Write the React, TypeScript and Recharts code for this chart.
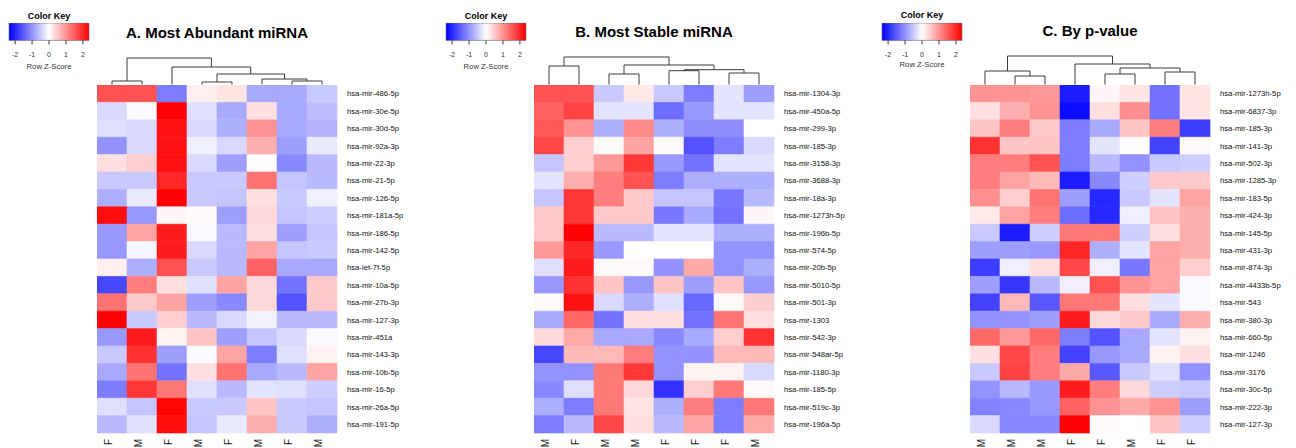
import React from 'react';
import { ComposedChart, XAxis, YAxis, ReferenceArea, Line, Scatter } from 'recharts';

const FONT = '"Liberation Sans", Arial, Helvetica, sans-serif';

// ---------- Panel A ----------
const titleA = 'A. Most Abundant miRNA';
const rowsA = [
  'hsa-mir-486-5p', 'hsa-mir-30e-5p', 'hsa-mir-30d-5p', 'hsa-mir-92a-3p', 'hsa-mir-22-3p',
  'hsa-mir-21-5p', 'hsa-mir-126-5p', 'hsa-mir-181a-5p', 'hsa-mir-186-5p', 'hsa-mir-142-5p',
  'hsa-let-7f-5p', 'hsa-mir-10a-5p', 'hsa-mir-27b-3p', 'hsa-mir-127-3p', 'hsa-mir-451a',
  'hsa-mir-143-3p', 'hsa-mir-10b-5p', 'hsa-mir-16-5p', 'hsa-mir-26a-5p', 'hsa-mir-191-5p',
];
const colsA = ['F', 'M', 'F', 'M', 'F', 'M', 'F', 'M'];
const zA = [
  [1.6, 1.6, -1.2, 0.15, 0.25, -0.8, -0.8, -0.5],
  [-0.35, -0.05, 2.36, -0.3, -0.8, 0.3, -0.8, -0.6],
  [-0.3, -0.35, 2.2, -0.35, -0.75, 1.0, -0.8, -0.7],
  [-1.0, -0.35, 2.2, -0.15, -0.35, 0.75, -0.9, -0.2],
  [0.3, 0.45, 2.2, -0.35, -0.9, 0.02, -1.1, -0.65],
  [-0.5, -0.5, 2.0, -0.5, -0.5, 1.3, -0.55, -0.65],
  [-0.75, -0.2, 2.36, -0.5, -0.55, 0.3, -0.5, -0.15],
  [2.25, -0.95, 0.07, 0.05, -0.9, 0.35, -0.55, -0.45],
  [-0.95, 0.85, 2.1, -0.05, -0.65, 0.3, -0.9, -0.55],
  [-0.95, -0.08, 2.1, -0.35, -0.65, 0.85, -0.55, -0.5],
  [0.15, -0.75, 1.6, -0.5, -0.65, 1.45, -0.8, -0.8],
  [-1.7, 1.2, 0.3, -0.3, 0.85, 0.35, -1.3, 0.5],
  [1.3, 0.5, 0.85, -0.9, -1.1, 0.35, -1.6, 0.5],
  [2.36, -0.5, 0.45, -0.65, -0.35, -0.12, -0.65, -0.65],
  [-0.95, 2.1, 0.12, 0.55, -0.9, -0.55, -0.35, -0.05],
  [-0.5, 1.9, -0.9, -0.05, 0.85, -1.2, -0.3, 0.12],
  [-0.8, 1.3, -1.3, 0.3, 1.3, -0.8, -0.65, 0.85],
  [-1.2, 1.85, 1.25, -0.3, -0.65, -0.25, -0.3, -0.45],
  [-0.3, -0.55, 2.3, -0.5, -0.5, 0.55, -0.5, -0.55],
  [-0.65, -0.3, 2.25, -0.55, -0.2, 0.75, -0.5, -0.75],
];
// hclust-style merges: negative = leaf column (1-based), positive = earlier merge; third = height
const mergeA: [number, number, number][] = [
  [-1, -2, 4], [-4, -5, 3], [-7, -8, 4], [-6, 3, 6], [2, 4, 11], [-3, 5, 18], [1, 6, 27],
];

// ---------- Panel B ----------
const titleB = 'B. Most Stable miRNA';
const rowsB = [
  'hsa-mir-1304-3p', 'hsa-mir-450a-5p', 'hsa-mir-299-3p', 'hsa-mir-185-3p', 'hsa-mir-3158-3p',
  'hsa-mir-3688-3p', 'hsa-mir-18a-3p', 'hsa-mir-1273h-5p', 'hsa-mir-196b-5p', 'hsa-mir-574-5p',
  'hsa-mir-20b-5p', 'hsa-mir-5010-5p', 'hsa-mir-501-3p', 'hsa-mir-1303', 'hsa-mir-542-3p',
  'hsa-mir-548ar-5p', 'hsa-mir-1180-3p', 'hsa-mir-185-5p', 'hsa-mir-519c-3p', 'hsa-mir-196a-5p',
];
const colsB = ['M', 'F', 'M', 'M', 'F', 'F', 'F', 'M'];
const zB = [
  [1.6, 1.6, -0.5, 0.2, -0.5, -1.2, -0.25, -0.9],
  [1.45, 1.75, -0.25, -0.25, -1.35, -0.95, -0.25, -0.25],
  [1.55, 1.0, -0.75, 1.1, -0.75, -1.05, -1.05, 0],
  [1.7, 0.45, 0.05, 0.85, 0.05, -1.6, -1.2, -0.35],
  [-0.55, 0.45, 0.95, 1.85, -0.95, -1.3, -0.25, -0.25],
  [-0.25, 0.75, 1.2, 1.6, -1.2, -0.75, -0.75, -0.75],
  [-0.55, 1.85, 1.2, 0.5, -0.55, -0.55, -1.25, -0.65],
  [0.5, 1.85, 0.5, 0.5, -1.25, -0.8, -1.3, 0.07],
  [0.5, 2.36, -0.65, -0.65, -0.25, -0.25, -0.75, -0.75],
  [0.95, 2.0, -0.95, 0, 0, 0, -1.0, -1.0],
  [-0.3, 2.1, 0.05, 0.05, -1.0, 0.8, -1.0, -0.75],
  [-0.95, 1.9, 0.55, -0.95, 0.55, -0.9, 0.55, -0.95],
  [0.05, 2.2, -0.35, -0.75, -0.3, -1.4, 0.05, 0.45],
  [-0.8, 1.4, -1.3, 0.3, 0.3, -1.3, 1.3, 0.3],
  [0.35, 0.8, -0.8, -0.8, -1.1, -0.8, 0.45, 1.9],
  [-1.7, 0.65, 0.65, 1.2, -1.0, -1.0, 0.65, 0.65],
  [-1.0, -1.0, 1.25, 1.85, -1.0, 0.12, 0.12, -0.35],
  [-1.1, -0.3, 1.25, 0.35, -1.9, 0.45, 1.25, 0.05],
  [-0.75, -1.2, 1.25, 0.25, -0.75, 1.2, -1.2, 1.25],
  [-1.2, -0.65, 1.7, 0.3, -0.65, 0.85, -1.2, 0.8],
];
const mergeB: [number, number, number][] = [
  [-1, -2, 19], [-3, -4, 11], [-5, -6, 14.3], [-7, -8, 12], [3, 4, 15.3], [2, 5, 20], [1, 6, 28],
];

// ---------- Panel C ----------
const titleC = 'C. By p-value';
const rowsC = [
  'hsa-mir-1273h-5p', 'hsa-mir-6837-3p', 'hsa-mir-185-3p', 'hsa-mir-141-3p', 'hsa-mir-502-3p',
  'hsa-mir-1285-3p', 'hsa-mir-183-5p', 'hsa-mir-424-3p', 'hsa-mir-145-5p', 'hsa-mir-431-3p',
  'hsa-mir-874-3p', 'hsa-mir-4433b-5p', 'hsa-mir-543', 'hsa-mir-380-3p', 'hsa-mir-660-5p',
  'hsa-mir-1246', 'hsa-mir-3176', 'hsa-mir-30c-5p', 'hsa-mir-222-3p', 'hsa-mir-127-3p',
];
const colsC = ['M', 'M', 'M', 'F', 'F', 'M', 'F', 'F'];
const zC = [
  [1.0, 1.0, 0.95, -2.1, 0.07, 0.25, -1.3, 0.25],
  [0.3, 0.75, 1.0, -2.25, 0.3, 1.05, -1.3, 0.25],
  [0.55, 1.2, 0.5, -1.2, -0.8, 0.55, 1.2, -1.8],
  [1.9, 0.55, 0.55, -1.2, -0.25, 0.02, -1.75, 0.05],
  [1.2, 1.2, 1.6, -1.2, -0.65, -1.0, -0.5, -0.45],
  [1.2, 0.85, 0.65, -2.1, -1.1, -0.45, 0.5, 0.5],
  [1.05, 0.45, 1.3, -0.9, -2.0, -0.5, -0.25, 0.85],
  [0.2, 0.85, 1.2, -1.35, -2.0, -0.15, 0.55, 0.75],
  [-0.5, -2.1, -0.45, 1.25, 1.25, -0.45, 0.3, 0.75],
  [-0.9, -0.9, -0.95, 2.0, -0.75, -0.25, 0.85, 0.75],
  [-1.8, -0.15, 0.3, 1.7, -0.15, -1.25, 0.85, 0.45],
  [-0.9, -1.85, -0.65, -0.15, 1.6, 1.0, 0.85, -0.05],
  [-1.75, 0.65, -1.55, 1.25, 1.25, 0.3, -0.25, -0.05],
  [-1.0, -1.0, -0.9, 2.1, 0.35, 0.5, -0.8, 0.75],
  [1.4, 0.95, 1.4, -1.2, -1.6, -0.8, -0.25, 0.12],
  [0.3, 1.7, 1.2, -1.75, -0.95, -0.8, 0.12, 0.3],
  [-0.5, 1.75, 1.2, 0.8, -1.55, -0.5, -0.3, -1.0],
  [-1.0, -0.65, -0.95, 2.1, 1.2, 0.35, -0.45, -0.5],
  [-1.15, -1.1, -0.95, 1.45, 1.0, 0.8, 1.0, -0.9],
  [-0.35, -1.1, -1.1, 2.36, 0.05, 0, 0.55, -0.45],
];
const mergeC: [number, number, number][] = [
  [-2, -3, 9], [-1, 1, 14], [-5, -6, 11], [-7, -8, 13], [3, 4, 17], [-4, 5, 21], [2, 6, 29],
];

// ---------- Color key ----------
const keyTicks = [-2, -1, 0, 1, 2];
const keyRange = 2.36;
const keyTitle = 'Color Key';
const keyLabel = 'Row Z-Score';

function zColor(z: number): string {
  const t = Math.max(-1, Math.min(1, z / keyRange));
  if (t >= 0) {
    const v = Math.round(255 * (1 - t));
    return `rgb(255,${v},${v})`;
  }
  const v = Math.round(255 * (1 + t));
  return `rgb(${v},${v},255)`;
}

const LEAF_BASE = 0.5;
function dendroPaths(merges: [number, number, number][]) {
  const xs: number[] = [];
  const hs: number[] = [];
  const pos = (id: number) => (id < 0 ? { x: -id - 0.5, h: LEAF_BASE } : { x: xs[id - 1], h: hs[id - 1] });
  return merges.map(([a, b, h]) => {
    const L = pos(a);
    const R = pos(b);
    xs.push((L.x + R.x) / 2);
    hs.push(h);
    return [
      { x: L.x, y: L.h },
      { x: L.x, y: h },
      { x: R.x, y: h },
      { x: R.x, y: R.h },
    ];
  });
}

const Invisible = () => <g />;

const ColTick = (props: any) => {
  const { x, y, payload, labels } = props;
  const i = Math.floor(payload.value);
  const ty = y + 6;
  return (
    <text x={x} y={ty} transform={`rotate(-90 ${x} ${ty})`} textAnchor="end" fontSize={10} fill="#222" fontFamily={FONT}>
      {labels[i]}
    </text>
  );
};

function Dendro({ merges, n }: { merges: [number, number, number][]; n: number }) {
  const paths = dendroPaths(merges);
  return (
    <ComposedChart width={240} height={31} margin={{ top: 0, right: 0, bottom: 0, left: 0 }}>
      <XAxis type="number" dataKey="x" domain={[0, n]} hide allowDataOverflow />
      <YAxis type="number" dataKey="y" domain={[0, 31]} hide allowDataOverflow />
      {paths.map((p, i) => (
        <Line key={i} data={p} dataKey="y" type="linear" stroke="#3a3a3a" strokeWidth={1} dot={false} activeDot={false} isAnimationActive={false} />
      ))}
    </ComposedChart>
  );
}

function Heat({ rows, cols, z }: { rows: string[]; cols: string[]; z: number[][] }) {
  const yTicks = rows.map((_, i) => i + 0.5);
  const xTicks = cols.map((_, i) => i + 0.5);
  const cells = z.flatMap((row, r) => row.map((v, c) => ({ x: c + 0.5, y: r + 0.5, v })));
  return (
    <ComposedChart width={350} height={378} margin={{ top: 0, right: 0, bottom: 0, left: 0 }}>
      <XAxis type="number" dataKey="x" domain={[0, cols.length]} ticks={xTicks} interval={0} axisLine={false} tickLine={false}
        tickSize={0} tickMargin={0} height={30} tick={<ColTick labels={cols} />} allowDataOverflow />
      <YAxis type="number" dataKey="y" orientation="right" domain={[0, rows.length]} reversed ticks={yTicks} interval={0}
        tickFormatter={(v: number) => rows[Math.floor(v)]} axisLine={false} tickLine={false} tickSize={0} tickMargin={10}
        width={110} tick={{ fontSize: 7.7, fill: '#111', fontFamily: FONT }} allowDataOverflow />
      {cells.map((d) => {
        const col = zColor(d.v);
        return (
          <ReferenceArea key={`${d.x}-${d.y}`} x1={d.x - 0.5} x2={d.x + 0.5} y1={d.y - 0.5} y2={d.y + 0.5} fill={col}
            fillOpacity={1} stroke={col} strokeWidth={0.6} ifOverflow="visible" />
        );
      })}
      <Scatter data={cells} dataKey="y" shape={Invisible} isAnimationActive={false} />
    </ComposedChart>
  );
}

function KeyBar({ id }: { id: string }) {
  const anchor = keyTicks.map((t) => ({ x: t, y: 0.5 }));
  return (
    <ComposedChart width={100} height={47.4} margin={{ top: 0, right: 10, bottom: 0, left: 10 }}>
      <defs>
        <linearGradient id={id} x1="0" y1="0" x2="1" y2="0">
          <stop offset="0%" stopColor="#0000FF" />
          <stop offset="50%" stopColor="#FFFFFF" />
          <stop offset="100%" stopColor="#FF0000" />
        </linearGradient>
      </defs>
      <XAxis type="number" dataKey="x" domain={[-keyRange, keyRange]} ticks={keyTicks} interval={0} axisLine={false}
        tickSize={4} tickMargin={8} tickLine={{ stroke: '#333' }} height={30}
        tick={{ fontSize: 7, fill: '#333', fontFamily: FONT }} allowDataOverflow />
      <YAxis type="number" dataKey="y" domain={[0, 1]} hide allowDataOverflow />
      <ReferenceArea x1={-keyRange} x2={keyRange} y1={0} y2={1} fill={`url(#${id})`} fillOpacity={1}
        stroke="#666" strokeWidth={0.6} ifOverflow="visible" />
      <Scatter data={anchor} dataKey="y" shape={Invisible} isAnimationActive={false} />
    </ComposedChart>
  );
}

const PANELS = [
  { id: 'A', title: titleA, rows: rowsA, cols: colsA, z: zA, merges: mergeA, x0: 97, keyTop: 23.3, keyTitleY: 19.2, keyLabelY: 68.8, titleY: 37.7 },
  { id: 'B', title: titleB, rows: rowsB, cols: colsB, z: zB, merges: mergeB, x0: 534, keyTop: 23.4, keyTitleY: 18.6, keyLabelY: 68.6, titleY: 37.1 },
  { id: 'C', title: titleC, rows: rowsC, cols: colsC, z: zC, merges: mergeC, x0: 970, keyTop: 22.7, keyTitleY: 17.6, keyLabelY: 67.2, titleY: 36.1 },
];

export default function App() {
  return (
    <div style={{ position: 'absolute', left: 0, top: 0, width: 1296, height: 448, overflow: 'hidden', background: '#fff', fontFamily: FONT }}>
      {PANELS.map((p) => (
        <React.Fragment key={p.id}>
          <div style={{ position: 'absolute', left: p.x0, top: 54 }}>
            <Dendro merges={p.merges} n={p.cols.length} />
          </div>
          <div style={{ position: 'absolute', left: p.x0, top: 85 }}>
            <Heat rows={p.rows} cols={p.cols} z={p.z} />
          </div>
          <div style={{ position: 'absolute', left: p.x0 - 98, top: p.keyTop }}>
            <KeyBar id={`keygrad${p.id}`} />
          </div>
        </React.Fragment>
      ))}
      <svg width={1296} height={448} style={{ position: 'absolute', left: 0, top: 0, pointerEvents: 'none' }}>
        {PANELS.map((p) => (
          <g key={p.id} fontFamily={FONT}>
            <text x={p.x0 + 120} y={p.titleY} textAnchor="middle" fontSize={15} fontWeight="bold" fill="#000">{p.title}</text>
            <text x={p.x0 - 48} y={p.keyTitleY} textAnchor="middle" fontSize={9} fontWeight="bold" fill="#000">{keyTitle}</text>
            <text x={p.x0 - 48} y={p.keyLabelY} textAnchor="middle" fontSize={7.7} fill="#333">{keyLabel}</text>
          </g>
        ))}
      </svg>
    </div>
  );
}
